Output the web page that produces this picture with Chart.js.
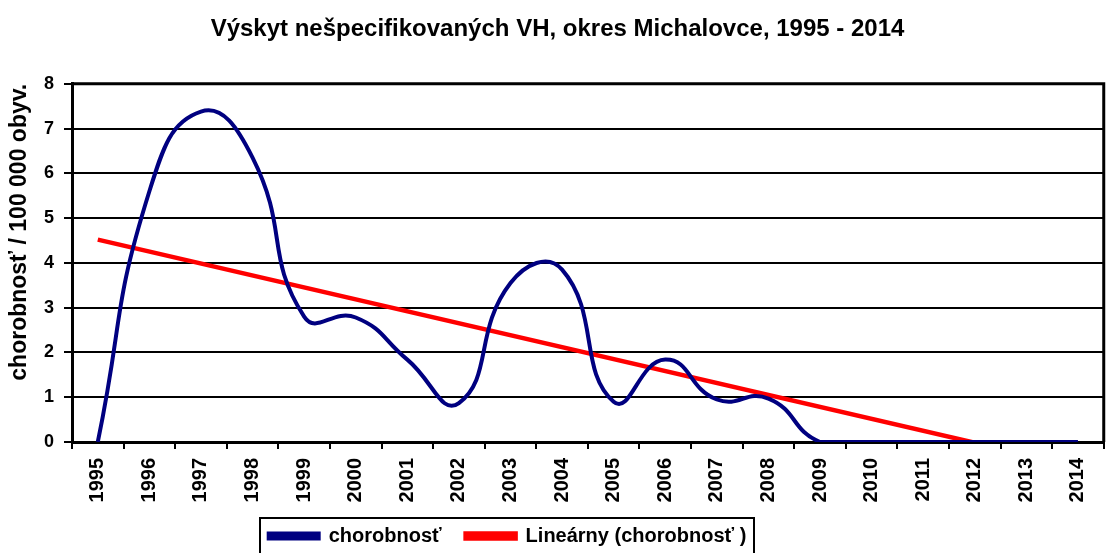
<!DOCTYPE html>
<html>
<head>
<meta charset="utf-8">
<script src="https://cdn.jsdelivr.net/npm/chart.js@4/dist/chart.umd.min.js"></script>
<style>
  html, body { margin: 0; padding: 0; background: #fff; }
  #wrap { width: 1111px; height: 553px; }
</style>
</head>
<body>
<div id="wrap"><canvas id="graf"></canvas></div>
<script>
// roky a hodnoty odčítané z obrázka
const roky = ["1995", "1996", "1997", "1998", "1999", "2000", "2001", "2002", "2003", "2004",
  "2005", "2006", "2007", "2008", "2009", "2010", "2011", "2012", "2013", "2014"];
const chorobnost = [0, 5.6, 7.38, 6.35, 2.8, 2.78, 1.84, 0.87, 3.55, 3.85,
  0.9, 1.84, 0.95, 0.97, 0, 0, 0, 0, 0, 0];
// lineárny trend: len začiatok a koniec (odčítané)
const trendZaciatok = 4.52;
const trendKoniec = -0.55;
const yTicks = [0, 1, 2, 3, 4, 5, 6, 7, 8];

const trend = roky.map((r, i) => (i === 0 ? trendZaciatok : i === roky.length - 1 ? trendKoniec : null));

const pismo = "'Liberation Sans', Arial, sans-serif";

// poloha legendy ako v originále
const posunX = -50;
const stredTextuLegendyY = 536;

// rám okolo plochy grafu a okolo legendy
const ramPlugin = {
  id: "ram",
  afterLayout(chart) {
    const lg = chart.legend;
    if (lg) {
      const lab = lg.options.labels;
      const h = lg.bottom - lg.top;
      lg.left += posunX;
      lg.right += posunX;
      lg.top = stredTextuLegendyY - lab.padding - lab.font.size / 2;
      lg.bottom = lg.top + h;
    }
    // aby sa popisky osi x neorezali
    chart.scales.x.bottom = chart.height;
  },
  afterDraw(chart) {
    const ctx = chart.ctx;
    const a = chart.chartArea;
    ctx.save();
    ctx.strokeStyle = "#000";
    ctx.lineWidth = 3;
    ctx.beginPath();
    ctx.moveTo(a.left, a.top);
    ctx.lineTo(a.right, a.top);
    ctx.lineTo(a.right, a.bottom);
    ctx.stroke();
    const lg = chart.legend;
    if (lg && lg.lineWidths) {
      const pad = lg.options.labels.padding;
      const x0 = (lg.left + pad + lg.right - lg.lineWidths[0]) / 2;
      const x1 = x0 + lg.lineWidths[0] - pad;
      ctx.lineWidth = 2;
      ctx.strokeRect(Math.round(x0 - 9), stredTextuLegendyY - 18, Math.round(x1 - x0 + 16), 60);
    }
    ctx.restore();
  },
};

new Chart(document.getElementById("graf"), {
  type: "line",
  data: {
    labels: roky,
    datasets: [
      {
        label: "chorobnosť",
        data: chorobnost,
        borderColor: "#000080",
        backgroundColor: "#000080",
        borderWidth: 4,
        pointRadius: 0,
        tension: 0.5,
      },
      {
        label: "Lineárny (chorobnosť )",
        data: trend,
        borderColor: "#ff0000",
        backgroundColor: "#ff0000",
        borderWidth: 4.5,
        pointRadius: 0,
        tension: 0,
        spanGaps: true,
      },
    ],
  },
  options: {
    responsive: true,
    maintainAspectRatio: false,
    animation: false,
    layout: { padding: { left: 6, right: 2, top: 0, bottom: 0 } },
    plugins: {
      title: {
        display: true,
        text: "Výskyt nešpecifikovaných VH, okres Michalovce, 1995 - 2014",
        color: "#000",
        font: { family: pismo, size: 24, weight: "bold" },
        padding: { top: 15, bottom: 40 },
      },
      legend: {
        position: "bottom",
        labels: {
          color: "#000",
          font: { family: pismo, size: 20, weight: "bold" },
          boxWidth: 50,
          boxHeight: 5,
          padding: 24,
        },
      },
      tooltip: { enabled: false },
    },
    scales: {
      x: {
        offset: true,
        grid: {
          offset: true,
          drawOnChartArea: false,
          drawTicks: true,
          tickLength: 7,
          color: "#000",
          lineWidth: 2,
        },
        border: { display: true, color: "#000", width: 3 },
        ticks: {
          color: "#000",
          font: { family: pismo, size: 20, weight: "bold" },
          minRotation: 90,
          maxRotation: 90,
          autoSkip: false,
          padding: 9,
        },
        afterFit(scale) { scale.height = 57; },
      },
      y: {
        min: 0,
        max: 8,
        afterBuildTicks(scale) { scale.ticks = yTicks.map((v) => ({ value: v })); },
        grid: {
          color: "#000",
          lineWidth: 2,
          tickLength: 8,
        },
        border: { display: true, color: "#000", width: 3 },
        ticks: {
          color: "#000",
          font: { family: pismo, size: 18, weight: "bold" },
          padding: 10,
        },
        title: {
          display: true,
          align: "end",
          text: "chorobnosť / 100 000 obyv.",
          color: "#000",
          font: { family: pismo, size: 23, weight: "bold" },
          padding: { top: 0, bottom: 4 },
        },
        afterFit(scale) { scale.width = 66; },
      },
    },
  },
  plugins: [ramPlugin],
});
</script>
</body>
</html>
